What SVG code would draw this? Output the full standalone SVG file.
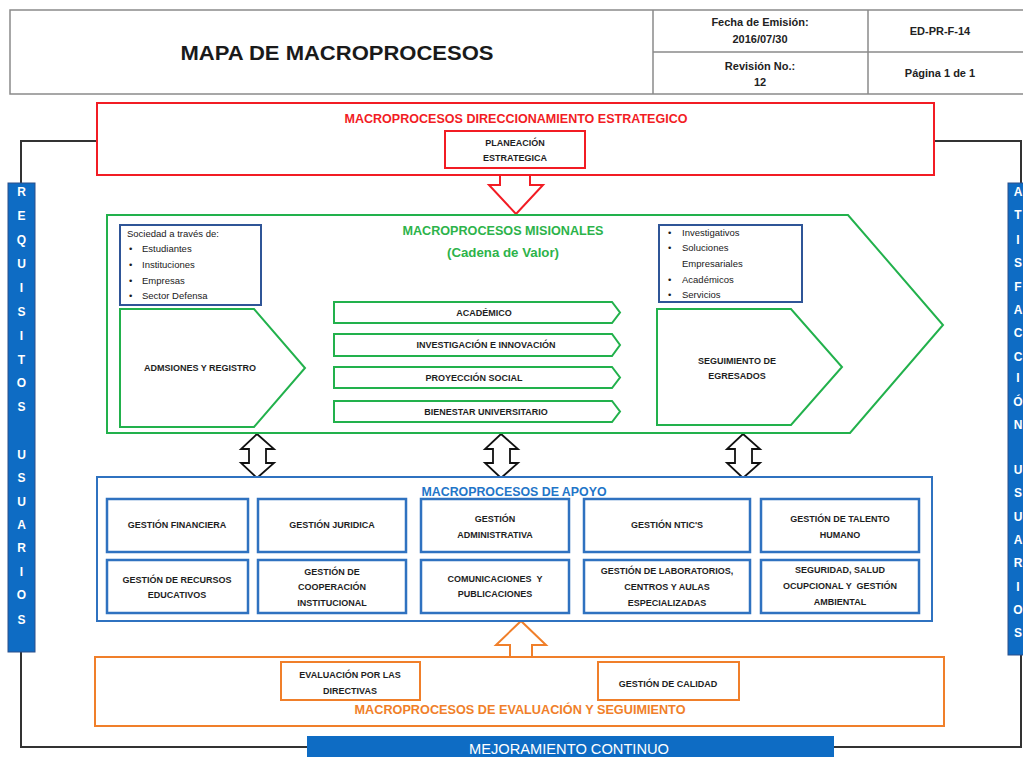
<svg xmlns="http://www.w3.org/2000/svg" width="1023" height="757" viewBox="0 0 1023 757">
<style>
text{font-family:"Liberation Sans",Arial,sans-serif}
.hd{font-size:11px;font-weight:bold;fill:#222;text-anchor:middle}
.lbl{font-size:9px;font-weight:bold;fill:#1e1e1e;text-anchor:middle}
.sm{font-size:9.5px;fill:#1a1a1a}
.bar{font-size:12px;font-weight:bold;fill:#fff;text-anchor:middle}
.conn{fill:none;stroke:#333;stroke-width:2}
.gbox{fill:#fff;stroke:#22B14C;stroke-width:2}
.bbox{fill:#fff;stroke:#2F72C0;stroke-width:2.5}
.nbox{fill:#fff;stroke:#2F5597;stroke-width:2}
.obox{fill:#fff;stroke:#F07F2A;stroke-width:2}
.rbox{fill:#fff;stroke:#F21C24;stroke-width:2}
</style>
<rect width="1023" height="757" fill="#fff"/>

<g id="header">
<rect x="10" y="10" width="1020" height="84" fill="#fff" stroke="#8a8a8a" stroke-width="1.5"/>
<line x1="653" y1="10" x2="653" y2="94" stroke="#8a8a8a" stroke-width="1.5"/>
<line x1="868" y1="10" x2="868" y2="94" stroke="#8a8a8a" stroke-width="1.5"/>
<line x1="653" y1="52" x2="1023" y2="52" stroke="#8a8a8a" stroke-width="1.5"/>
<text x="337" y="60" font-size="20" font-weight="bold" fill="#1a1a1a" text-anchor="middle" textLength="313" lengthAdjust="spacingAndGlyphs">MAPA DE MACROPROCESOS</text>
<text class="hd" x="760" y="26">Fecha de Emisión:</text>
<text class="hd" x="760" y="43">2016/07/30</text>
<text class="hd" x="940" y="35">ED-PR-F-14</text>
<text class="hd" x="760" y="70">Revisión No.:</text>
<text class="hd" x="760" y="86">12</text>
<text class="hd" x="940" y="77">Página 1 de 1</text>
</g>

<g id="connectors">
<polyline class="conn" points="97,141 21,141 21,183"/>
<polyline class="conn" points="21,652 21,747 307,747"/>
<polyline class="conn" points="934,141 1021,141 1021,183"/>
<polyline class="conn" points="1021,655 1021,747 834,747"/>
<polygon points="500,175 530,175 530,185 543,185 516,214 489,185 500,185" fill="#fff" stroke="#F21C24" stroke-width="2"/>
<polygon points="257,434 274,449 266,449 266,463 274,463 257,478 241,463 249,463 249,449 241,449" fill="#fff" stroke="#111" stroke-width="1.8"/>
<polygon points="501,434 518,449 510,449 510,463 518,463 501,478 485,463 493,463 493,449 485,449" fill="#fff" stroke="#111" stroke-width="1.8"/>
<polygon points="743,434 760,449 752,449 752,463 760,463 743,478 727,463 735,463 735,449 727,449" fill="#fff" stroke="#111" stroke-width="1.8"/>
<polygon points="510,657 510,645 496,645 521,621 546,645 532,645 532,657" fill="#fff" stroke="#F07F2A" stroke-width="2"/>
</g>

<g id="direccionamiento">
<rect class="rbox" x="97" y="103" width="837" height="72"/>
<text x="516" y="123" font-size="12" font-weight="bold" fill="#F21C24" text-anchor="middle" textLength="343" lengthAdjust="spacingAndGlyphs">MACROPROCESOS DIRECCIONAMIENTO ESTRATEGICO</text>
</g>
<g id="planeacion">
<rect class="rbox" x="445" y="131" width="140" height="37"/>
<text class="lbl" x="515" y="146" font-weight="normal">PLANEACIÓN</text>
<text class="lbl" x="515" y="161" font-weight="normal">ESTRATEGICA</text>
</g>

<g id="misionales">
<polygon class="gbox" points="107,215 848,215 943,325 850,433 107,433"/>
<text x="503" y="235" font-size="12.5" font-weight="bold" fill="#2DB34A" text-anchor="middle" textLength="201" lengthAdjust="spacingAndGlyphs">MACROPROCESOS MISIONALES</text>
<text x="503" y="257" font-size="12.5" font-weight="bold" fill="#2DB34A" text-anchor="middle" textLength="112" lengthAdjust="spacingAndGlyphs">(Cadena de Valor)</text>
</g>

<g id="sociedad">
<rect class="nbox" x="120" y="225" width="141" height="80"/>
<text class="sm" x="127" y="237">Sociedad a través de:</text>
<text class="sm" x="129" y="252">•</text><text class="sm" x="142" y="252">Estudiantes</text>
<text class="sm" x="129" y="268">•</text><text class="sm" x="142" y="268">Instituciones</text>
<text class="sm" x="129" y="284">•</text><text class="sm" x="142" y="284">Empresas</text>
<text class="sm" x="129" y="299">•</text><text class="sm" x="142" y="299">Sector Defensa</text>
</g>

<g id="admisiones">
<polygon class="gbox" points="120,309 254,309 305,368 254,427 120,427"/>
<text class="lbl" x="200" y="371">ADMSIONES Y REGISTRO</text>
</g>

<g id="academico">
<polygon class="gbox" points="334,302 612,302 620,312.5 612,323 334,323"/>
<text class="lbl" x="484" y="316">ACADÉMICO</text>
</g>
<g id="investigacion">
<polygon class="gbox" points="334,334 612,334 620,345 612,356 334,356"/>
<text class="lbl" x="486" y="348">INVESTIGACIÓN E INNOVACIÓN</text>
</g>
<g id="proyeccion">
<polygon class="gbox" points="334,367 612,367 620,377.5 612,388 334,388"/>
<text class="lbl" x="474" y="381">PROYECCIÓN SOCIAL</text>
</g>
<g id="bienestar">
<polygon class="gbox" points="334,401 612,401 620,411.5 612,422 334,422"/>
<text class="lbl" x="486" y="415">BIENESTAR UNIVERSITARIO</text>
</g>

<g id="resultados">
<rect class="nbox" x="659" y="225" width="143" height="77"/>
<text class="sm" x="668" y="236">•</text><text class="sm" x="682" y="236">Investigativos</text>
<text class="sm" x="668" y="251">•</text><text class="sm" x="682" y="251">Soluciones</text>
<text class="sm" x="682" y="267">Empresariales</text>
<text class="sm" x="668" y="283">•</text><text class="sm" x="682" y="283">Académicos</text>
<text class="sm" x="668" y="298">•</text><text class="sm" x="682" y="298">Servicios</text>
</g>

<g id="seguimiento">
<polygon class="gbox" points="657,309 791,309 842,367 791,425 657,425"/>
<text class="lbl" x="737" y="364">SEGUIMIENTO DE</text>
<text class="lbl" x="737" y="379">EGRESADOS</text>
</g>

<g id="apoyo">
<rect x="97" y="477" width="835" height="144" fill="#fff" stroke="#2F72C0" stroke-width="2"/>
<text x="514" y="496" font-size="12.5" font-weight="bold" fill="#1F75C8" text-anchor="middle" textLength="185" lengthAdjust="spacingAndGlyphs">MACROPROCESOS DE APOYO</text>
</g>
<g id="financiera"><rect class="bbox" x="107" y="499" width="141" height="53"/><text class="lbl" x="177" y="528">GESTIÓN FINANCIERA</text></g>
<g id="juridica"><rect class="bbox" x="258" y="499" width="148" height="53"/><text class="lbl" x="332" y="528">GESTIÓN JURIDICA</text></g>
<g id="administrativa"><rect class="bbox" x="421" y="499" width="148" height="53"/><text class="lbl" x="495" y="522">GESTIÓN</text><text class="lbl" x="495" y="538">ADMINISTRATIVA</text></g>
<g id="ntics"><rect class="bbox" x="584" y="499" width="166" height="53"/><text class="lbl" x="667" y="528">GESTIÓN NTIC'S</text></g>
<g id="talento"><rect class="bbox" x="761" y="499" width="158" height="53"/><text class="lbl" x="840" y="522">GESTIÓN DE TALENTO</text><text class="lbl" x="840" y="538">HUMANO</text></g>
<g id="recursos"><rect class="bbox" x="107" y="560" width="141" height="53"/><text class="lbl" x="177" y="583">GESTIÓN DE RECURSOS</text><text class="lbl" x="177" y="598">EDUCATIVOS</text></g>
<g id="cooperacion"><rect class="bbox" x="258" y="560" width="148" height="53"/><text class="lbl" x="332" y="575">GESTIÓN DE</text><text class="lbl" x="332" y="590">COOPERACIÓN</text><text class="lbl" x="332" y="606">INSTITUCIONAL</text></g>
<g id="comunicaciones"><rect class="bbox" x="421" y="560" width="148" height="53"/><text class="lbl" x="495" y="582" xml:space="preserve">COMUNICACIONES  Y</text><text class="lbl" x="495" y="597">PUBLICACIONES</text></g>
<g id="laboratorios"><rect class="bbox" x="584" y="560" width="166" height="53"/><text class="lbl" x="667" y="574">GESTIÓN DE LABORATORIOS,</text><text class="lbl" x="667" y="590">CENTROS Y AULAS</text><text class="lbl" x="667" y="606">ESPECIALIZADAS</text></g>
<g id="seguridad"><rect class="bbox" x="761" y="560" width="158" height="53"/><text class="lbl" x="840" y="573">SEGURIDAD, SALUD</text><text class="lbl" x="840" y="589" xml:space="preserve">OCUPCIONAL Y  GESTIÓN</text><text class="lbl" x="840" y="605">AMBIENTAL</text></g>

<g id="evaluacion">
<rect class="obox" x="95" y="657" width="849" height="69"/>
<text x="520" y="714" font-size="12" font-weight="bold" fill="#F07F2A" text-anchor="middle" textLength="331" lengthAdjust="spacingAndGlyphs">MACROPROCESOS DE EVALUACIÓN Y SEGUIMIENTO</text>
</g>
<g id="directivas"><rect class="obox" x="281" y="662" width="139" height="38"/><text class="lbl" x="350" y="678" font-weight="normal">EVALUACIÓN POR LAS</text><text class="lbl" x="350" y="694" font-weight="normal">DIRECTIVAS</text></g>
<g id="calidad"><rect class="obox" x="598" y="662" width="141" height="38"/><text class="lbl" x="668" y="687" font-weight="normal">GESTIÓN DE CALIDAD</text></g>

<g id="mejoramiento">
<rect x="307" y="736" width="527" height="25" fill="#0E6CC4"/>
<text x="569" y="754" font-size="14" fill="#fff" text-anchor="middle" textLength="200" lengthAdjust="spacingAndGlyphs">MEJORAMIENTO CONTINUO</text>
</g>

<g id="requisitos">
<rect x="8" y="183" width="27" height="469" fill="#0E6CC4" stroke="#2a4f8a" stroke-width="1"/>
<text class="bar" x="21.5" y="196">R</text>
<text class="bar" x="21.5" y="220">E</text>
<text class="bar" x="21.5" y="244">Q</text>
<text class="bar" x="21.5" y="268">U</text>
<text class="bar" x="21.5" y="292">I</text>
<text class="bar" x="21.5" y="316">S</text>
<text class="bar" x="21.5" y="340">I</text>
<text class="bar" x="21.5" y="364">T</text>
<text class="bar" x="21.5" y="387">O</text>
<text class="bar" x="21.5" y="411">S</text>
<text class="bar" x="21.5" y="459">U</text>
<text class="bar" x="21.5" y="482">S</text>
<text class="bar" x="21.5" y="506">U</text>
<text class="bar" x="21.5" y="529">A</text>
<text class="bar" x="21.5" y="552">R</text>
<text class="bar" x="21.5" y="576">I</text>
<text class="bar" x="21.5" y="599">O</text>
<text class="bar" x="21.5" y="624">S</text>
</g>

<g id="satisfaccion">
<rect x="1008" y="183" width="30" height="472" fill="#0E6CC4" stroke="#2a4f8a" stroke-width="1"/>
<text class="bar" x="1018" y="196">A</text>
<text class="bar" x="1018" y="219">T</text>
<text class="bar" x="1018" y="244">I</text>
<text class="bar" x="1018" y="267">S</text>
<text class="bar" x="1018" y="291">F</text>
<text class="bar" x="1018" y="314">A</text>
<text class="bar" x="1018" y="337">C</text>
<text class="bar" x="1018" y="361">C</text>
<text class="bar" x="1018" y="382">I</text>
<text class="bar" x="1018" y="406">Ó</text>
<text class="bar" x="1018" y="429">N</text>
<text class="bar" x="1018" y="474">U</text>
<text class="bar" x="1018" y="497">S</text>
<text class="bar" x="1018" y="521">U</text>
<text class="bar" x="1018" y="544">A</text>
<text class="bar" x="1018" y="567">R</text>
<text class="bar" x="1018" y="591">I</text>
<text class="bar" x="1018" y="614">O</text>
<text class="bar" x="1018" y="637">S</text>
</g>
</svg>
